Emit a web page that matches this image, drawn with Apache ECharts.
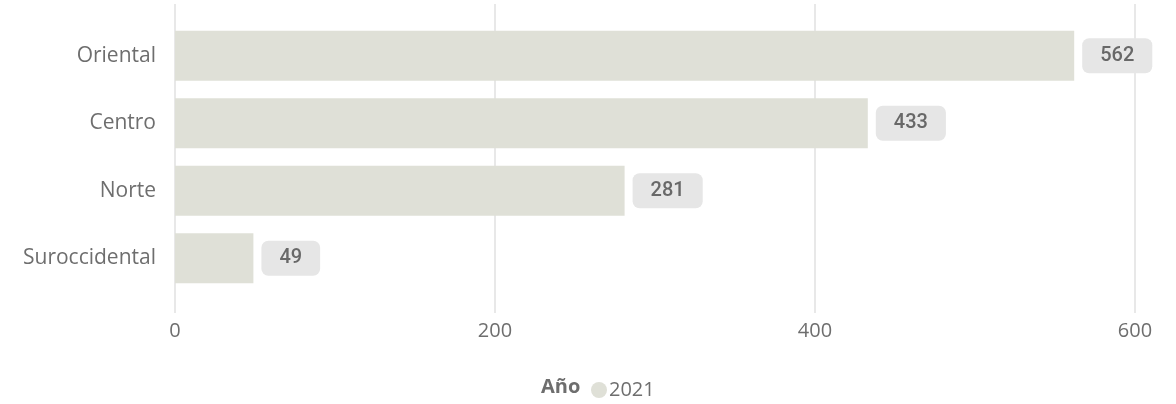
<!DOCTYPE html>
<html><head><meta charset="utf-8">
<script src="https://cdn.jsdelivr.net/npm/echarts@6/dist/echarts.min.js"></script>
<style>html,body{margin:0;padding:0;background:#fff}#c{width:1176px;height:404px}</style>
</head><body><div id="c"></div>
<script>
const categories = ['Oriental', 'Centro', 'Norte', 'Suroccidental'];
const values2021 = [562, 433, 281, 49];
const xTicks = [0, 200, 400, 600];
const seriesName = '2021';
const legendTitle = 'Año';

const font = '"Open Sans", "Noto Sans", sans-serif';
const chart = echarts.init(document.getElementById('c'));
chart.setOption({
  animation: false,
  grid: [
    { left: 175, right: 41, top: 22, bottom: 112 },
    { left: 175, right: 41, top: 4, bottom: 91 }
  ],
  xAxis: [
    { gridIndex: 0, type: 'value', min: xTicks[0], max: xTicks[xTicks.length - 1], interval: 200,
      axisLine: { show: false }, axisTick: { show: false }, axisLabel: { show: false }, splitLine: { show: false } },
    { gridIndex: 1, type: 'value', min: xTicks[0], max: xTicks[xTicks.length - 1], interval: 200,
      axisLine: { show: false }, axisTick: { show: false },
      axisLabel: { color: '#6e6e6e', fontSize: 20, fontFamily: font, margin: 8 },
      splitLine: { show: true, lineStyle: { color: '#e8e8e8', width: 2 } } }
  ],
  yAxis: [
    { gridIndex: 0, type: 'category', data: categories, inverse: true,
      axisLine: { show: false }, axisTick: { show: false },
      axisLabel: { color: '#6e6e6e', fontSize: 21, fontFamily: font, margin: 19 } },
    { gridIndex: 1, type: 'category', data: categories, show: false }
  ],
  legend: {
    data: [seriesName], left: 586, top: 375, icon: 'circle', itemWidth: 16, itemHeight: 16, itemGap: 4,
    textStyle: { color: '#6e6e6e', fontSize: 20, fontFamily: font, padding: [0, 0, 0, -3] }
  },
  graphic: [{ type: 'text', left: 541, top: 377,
    style: { text: legendTitle, fill: '#6e6e6e', fontSize: 20, fontWeight: 'bold', fontFamily: font } }],
  series: [{
    name: seriesName, type: 'bar', xAxisIndex: 0, yAxisIndex: 0, data: values2021, barWidth: 50,
    itemStyle: { color: '#dfe0d7' },
    label: { show: true, position: 'right', distance: 8, backgroundColor: '#e6e6e6', borderRadius: 7,
      padding: [8, 18, 5, 18], color: '#686868', fontSize: 20, fontWeight: 500, fontFamily: 'Roboto, sans-serif', lineHeight: 22 }
  }]
});
</script></body></html>
